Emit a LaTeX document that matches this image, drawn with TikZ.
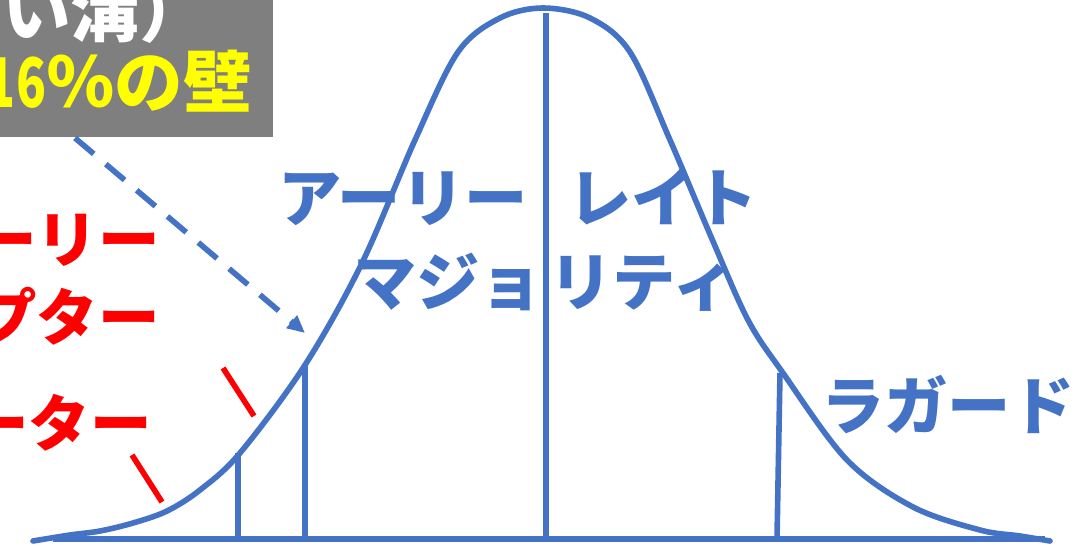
\documentclass[tikz,border=0pt]{standalone}
\usepackage{fontspec}
\newfontfamily\jpfont{Noto Sans CJK JP}
\usetikzlibrary{arrows.meta}
\definecolor{curveblue}{RGB}{68,114,196}
\definecolor{chasmgray}{RGB}{127,127,127}
\definecolor{adopterred}{RGB}{255,0,0}
\definecolor{wallyellow}{RGB}{255,255,0}

\begin{document}
\begin{tikzpicture}[x=0.02cm, y=-0.02cm,
    curveline/.style={line width=3.2pt, curveblue},
    jplabel/.style={inner sep=0pt, font=\jpfont\bfseries\fontsize{36}{40}\selectfont},
    redlabel/.style={inner sep=0pt, adopterred, font=\jpfont\bfseries\fontsize{35}{40}\selectfont},
    boxlabel/.style={inner sep=0pt, font=\jpfont\bfseries\fontsize{39}{44}\selectfont}]
  \useasboundingbox (0,0) rectangle (1076,548);
  \clip (0,0) rectangle (1076,548);

  % Chasm box (cut by the frame)
  \fill[chasmgray] (-20,-20) rectangle (273,137);
  \node[boxlabel, white, anchor=base east] (chasm) at (208,36) {い溝）};
  \node[boxlabel, wallyellow, anchor=base east] (wall) at (252,107)
    {\scalebox{0.72}[1]{16}％の壁};

  % Baseline and bell curve
  \draw[curveline] (53,539) -- (1045,539);
  \draw[curveline, line cap=round] plot[smooth, tension=0.55] coordinates {
      (33,541) (70,535) (100,531) (133,523) (167,511) (200,490) (240,453)
      (305,365) (362,263) (415,140) (458,52) (500,18) (543,8)
      (590,18) (630,52) (670,140) (712,239) (748,320) (783,373)
      (847,460) (913,507) (980,530) (1020,536) (1050,541)};

  % Segment borders
  \coordinate (innotop) at (238,453);
  \coordinate (earlytop) at (305,365);
  \coordinate (peaktop) at (546,13);
  \coordinate (latetop) at (780,373);
  \draw[curveline] (238,539) -- (innotop);
  \draw[curveline] (305,539) -- (earlytop);
  \draw[curveline] (546,539) -- (peaktop);
  \draw[curveline] (777,539) -- (latetop);

  % Arrow from the chasm box to the curve
  \coordinate (arrowstart) at (75,138);
  \coordinate (arrowtip) at (305,333);
  \draw[curveline, dash pattern=on 14pt off 9pt,
    -{Triangle[length=10pt, width=9pt]}] (arrowstart) -- (arrowtip);

  % Red group labels with their pointers
  \node[redlabel, anchor=base east] (early1) at (160,262) {ーリー};
  \node[redlabel, anchor=base east] (early2) at (160,340) {プター};
  \node[redlabel, anchor=base east] (inno) at (152,446) {ーター};
  \coordinate (earlyptA) at (223,368);
  \coordinate (earlyptB) at (254,416);
  \coordinate (innoptA) at (132,455);
  \coordinate (innoptB) at (162,502);
  \draw[adopterred, line width=3.2pt] (earlyptA) -- (earlyptB);
  \draw[adopterred, line width=3.2pt] (innoptA) -- (innoptB);

  % Blue majority labels
  \node[jplabel, curveblue, anchor=base east] (emaj1) at (528,221) {アーリー};
  \node[jplabel, curveblue, anchor=base west] (lmaj1) at (568,221) {レイト};
  \node[jplabel, curveblue, anchor=base west] (maj2a) at (353,305) {マジョ};
  \node[jplabel, curveblue, anchor=base west] (maj2b) at (549,305) {リティ};
  \node[jplabel, curveblue, anchor=base west] (lag) at (821,429) {ラガード};
\end{tikzpicture}
\end{document}
